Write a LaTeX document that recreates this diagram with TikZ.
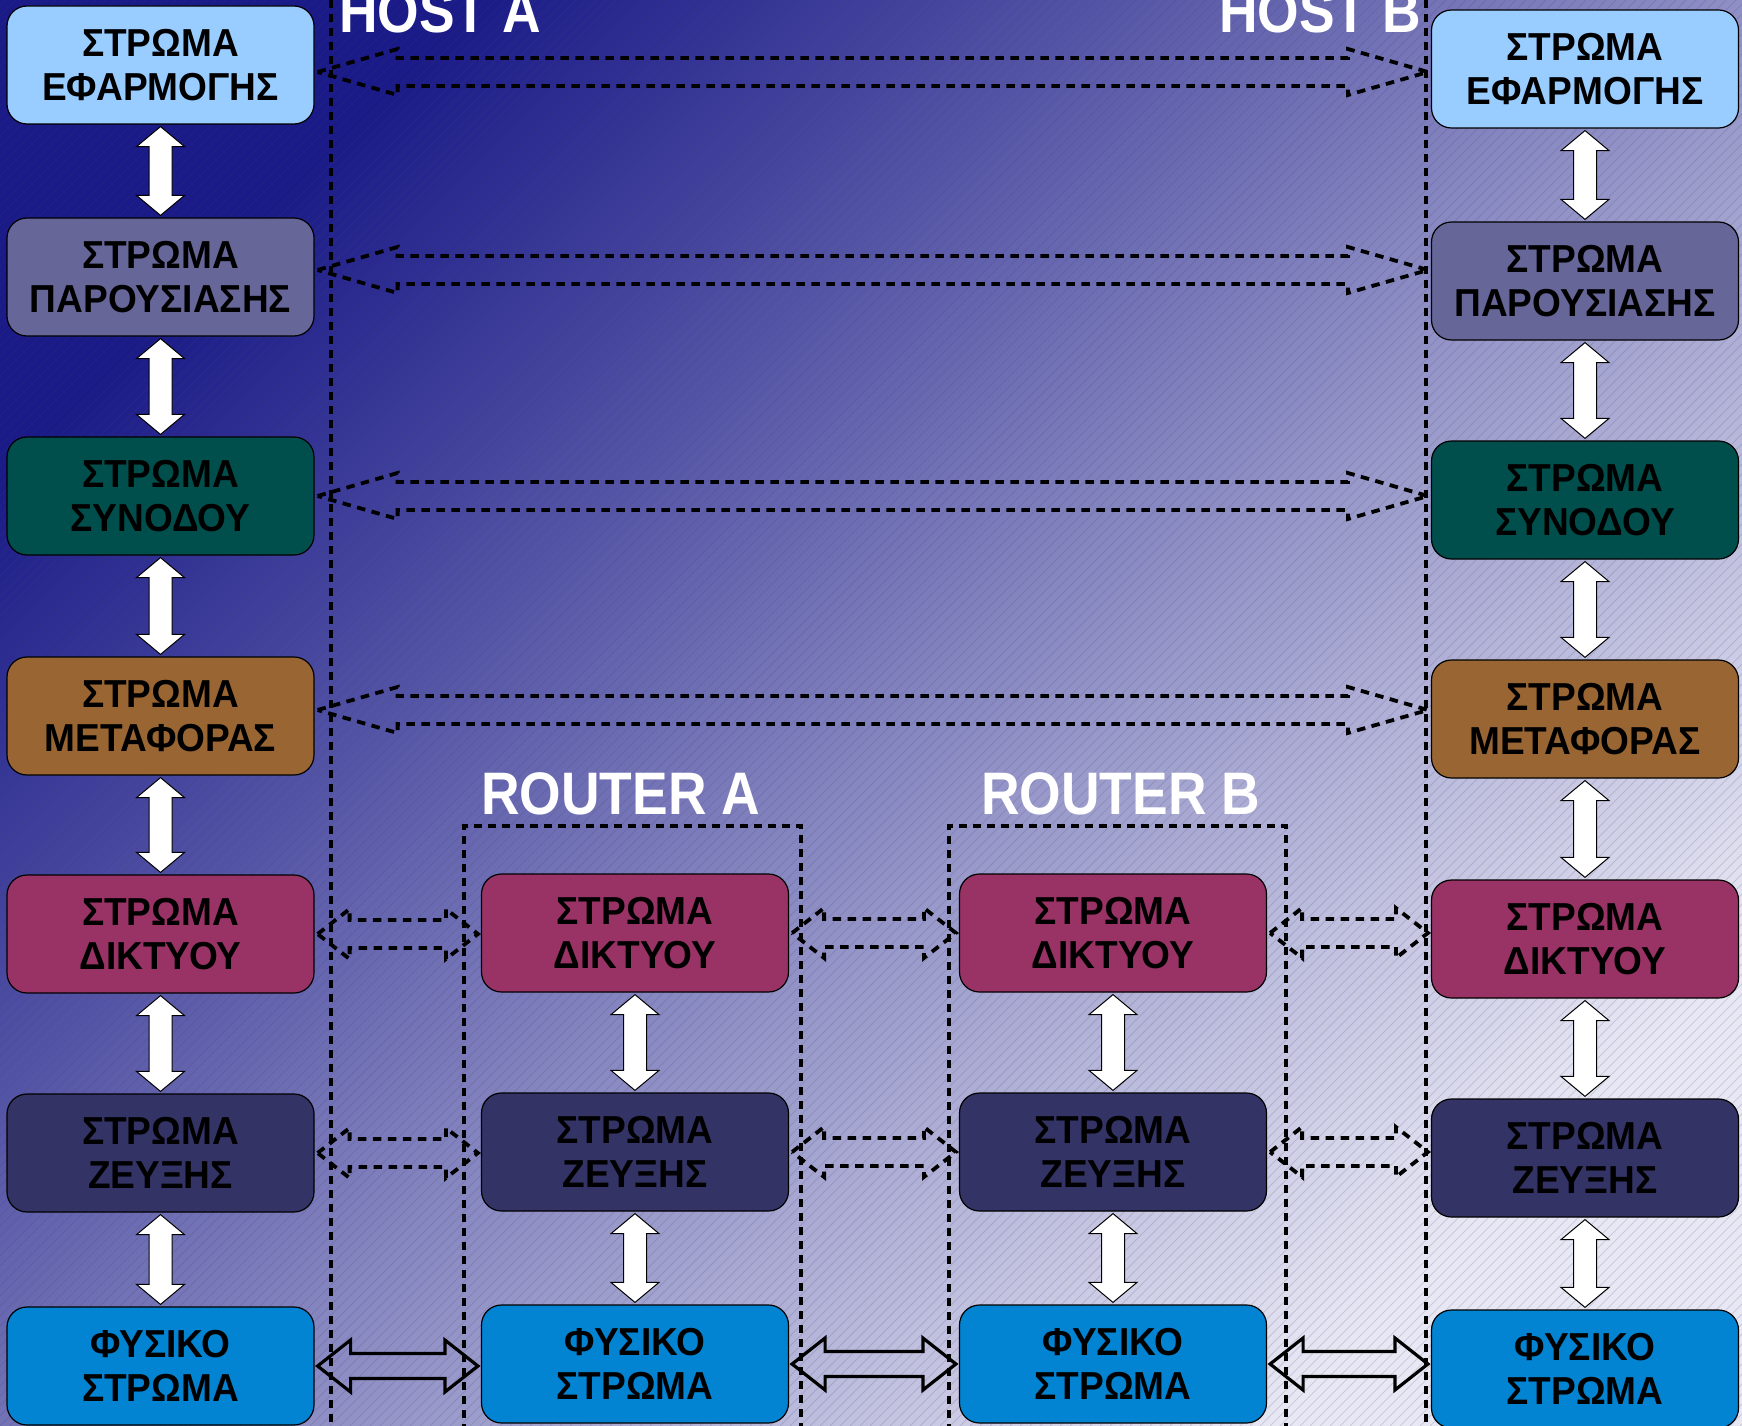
\documentclass[tikz,border=0pt]{standalone}
\usepackage{fontspec}
\setmainfont{Liberation Sans}
\newfontfamily\labelfont{Liberation Sans}[FakeStretch=0.89]
\newfontfamily\layerfont{Liberation Sans}[FakeStretch=0.95]
\usetikzlibrary{calc}
\definecolor{cApp}{HTML}{99CCFF}
\definecolor{cPres}{HTML}{666699}
\definecolor{cSess}{HTML}{004F4C}
\definecolor{cTrans}{HTML}{996633}
\definecolor{cNet}{HTML}{993366}
\definecolor{cLink}{HTML}{333366}
\definecolor{cPhys}{HTML}{0284D3}
\definecolor{bgTL}{HTML}{1A1A88}
\definecolor{bgMid}{HTML}{7070B8}
\definecolor{bgBR}{HTML}{E8E8F4}
\tikzset{
  layer/.style={draw=black, line width=1.2pt, rounded corners=20pt,
    minimum width=307pt, minimum height=118pt, inner sep=0pt, align=center,
    font=\layerfont\bfseries\fontsize{39}{44}\selectfont, text=black},
  biglabel/.style={text=white, inner sep=0pt,
    font=\labelfont\bfseries\fontsize{60}{60}\selectfont},
  vdash/.style={draw=black, line width=3.5pt, dash pattern=on 8pt off 6pt},
  peerarrow/.style={draw=black, line width=3.8pt, dash pattern=on 8.5pt off 6.5pt, line join=miter},
  physarrow/.style={draw=black, line width=3.2pt, line join=miter},
  varrow/.style={draw=black, line width=1pt, fill=white},
  hatch/.style={draw=black!40!bgMid, line width=0.8pt, opacity=0.18}
}
% horizontal double block arrow: style, from, to, head length, head half width, shaft half width, y shift
\newcommand\mkHarrow[7]{%
  \draw[#1] let \p1=($(#2.east)+(0,#7)$), \p2=(#3.west) in
    (\x1+3pt,\y1) -- (\x1+3pt+#4,\y1+#5) -- (\x1+3pt+#4,\y1+#6)
    -- (\x2-3pt-#4,\y1+#6) -- (\x2-3pt-#4,\y1+#5) -- (\x2-3pt,\y1)
    -- (\x2-3pt-#4,\y1-#5) -- (\x2-3pt-#4,\y1-#6) -- (\x1+3pt+#4,\y1-#6)
    -- (\x1+3pt+#4,\y1-#5) -- cycle;}
% vertical white double block arrow: from (upper), to (lower)
\newcommand\mkVarrow[2]{%
  \draw[varrow] let \p1=(#1.south), \p2=(#2.north) in
    (\x1,\y1-2pt) -- (\x1+24pt,\y1-22pt) -- (\x1+11.5pt,\y1-22pt)
    -- (\x1+11.5pt,\y2+22pt) -- (\x1+24pt,\y2+22pt) -- (\x1,\y2+2pt)
    -- (\x1-24pt,\y2+22pt) -- (\x1-11.5pt,\y2+22pt) -- (\x1-11.5pt,\y1-22pt)
    -- (\x1-24pt,\y1-22pt) -- cycle;}
\begin{document}
\begin{tikzpicture}[x=1pt,y=-1pt]
\useasboundingbox (0,0) rectangle (1742,1426);
\shade[top color=bgTL, middle color=bgMid, bottom color=bgBR, shading angle=45]
  (0,0) rectangle (1742,1426);
\begin{scope}
  \clip (0,0) rectangle (1742,1426);
  \foreach \i in {-1430,-1420,...,1750} \draw[hatch] (\i,1426) -- ++(1426,-1426);
\end{scope}
% boundary lines
\draw[vdash] (331,0) -- (331,1430);
\draw[vdash] (1426,0) -- (1426,1430);
\draw[vdash] (464,1432) -- (464,826) -- (801,826) -- (801,1432);
\draw[vdash] (949,1432) -- (949,826) -- (1286,826) -- (1286,1432);
% labels
\node[biglabel, anchor=base west] (hostA) at (339,33) {HOST A};
\node[biglabel, anchor=base east] (hostB) at (1421,33) {HOST B};
\node[biglabel, anchor=base west] (routA) at (481,814) {ROUTER A};
\node[biglabel, anchor=base west] (routB) at (981,814) {ROUTER B};
% host A
\node[layer, fill=cApp]   (a1) at (160.5,65)   {ΣΤΡΩΜΑ\\ΕΦΑΡΜΟΓΗΣ};
\node[layer, fill=cPres]  (a2) at (160.5,277)  {ΣΤΡΩΜΑ\\ΠΑΡΟΥΣΙΑΣΗΣ};
\node[layer, fill=cSess]  (a3) at (160.5,496)  {ΣΤΡΩΜΑ\\ΣΥΝΟΔΟΥ};
\node[layer, fill=cTrans] (a4) at (160.5,716)  {ΣΤΡΩΜΑ\\ΜΕΤΑΦΟΡΑΣ};
\node[layer, fill=cNet]   (a5) at (160.5,934)  {ΣΤΡΩΜΑ\\ΔΙΚΤΥΟΥ};
\node[layer, fill=cLink]  (a6) at (160.5,1153) {ΣΤΡΩΜΑ\\ΖΕΥΞΗΣ};
\node[layer, fill=cPhys]  (a7) at (160.5,1366) {ΦΥΣΙΚΟ\\ΣΤΡΩΜΑ};
% host B
\node[layer, fill=cApp]   (b1) at (1585,69)   {ΣΤΡΩΜΑ\\ΕΦΑΡΜΟΓΗΣ};
\node[layer, fill=cPres]  (b2) at (1585,281)  {ΣΤΡΩΜΑ\\ΠΑΡΟΥΣΙΑΣΗΣ};
\node[layer, fill=cSess]  (b3) at (1585,500)  {ΣΤΡΩΜΑ\\ΣΥΝΟΔΟΥ};
\node[layer, fill=cTrans] (b4) at (1585,719)  {ΣΤΡΩΜΑ\\ΜΕΤΑΦΟΡΑΣ};
\node[layer, fill=cNet]   (b5) at (1585,939)  {ΣΤΡΩΜΑ\\ΔΙΚΤΥΟΥ};
\node[layer, fill=cLink]  (b6) at (1585,1158) {ΣΤΡΩΜΑ\\ΖΕΥΞΗΣ};
\node[layer, fill=cPhys]  (b7) at (1585,1369) {ΦΥΣΙΚΟ\\ΣΤΡΩΜΑ};
% router A
\node[layer, fill=cNet]   (ra5) at (635,933)  {ΣΤΡΩΜΑ\\ΔΙΚΤΥΟΥ};
\node[layer, fill=cLink]  (ra6) at (635,1152) {ΣΤΡΩΜΑ\\ΖΕΥΞΗΣ};
\node[layer, fill=cPhys]  (ra7) at (635,1364) {ΦΥΣΙΚΟ\\ΣΤΡΩΜΑ};
% router B
\node[layer, fill=cNet]   (rb5) at (1113,933)  {ΣΤΡΩΜΑ\\ΔΙΚΤΥΟΥ};
\node[layer, fill=cLink]  (rb6) at (1113,1152) {ΣΤΡΩΜΑ\\ΖΕΥΞΗΣ};
\node[layer, fill=cPhys]  (rb7) at (1113,1364) {ΦΥΣΙΚΟ\\ΣΤΡΩΜΑ};
% vertical arrows
\mkVarrow{a1}{a2}\mkVarrow{a2}{a3}\mkVarrow{a3}{a4}\mkVarrow{a4}{a5}\mkVarrow{a5}{a6}\mkVarrow{a6}{a7}
\mkVarrow{b1}{b2}\mkVarrow{b2}{b3}\mkVarrow{b3}{b4}\mkVarrow{b4}{b5}\mkVarrow{b5}{b6}\mkVarrow{b6}{b7}
\mkVarrow{ra5}{ra6}\mkVarrow{ra6}{ra7}
\mkVarrow{rb5}{rb6}\mkVarrow{rb6}{rb7}
% peer arrows between hosts
\mkHarrow{peerarrow}{a1}{b1}{80pt}{23pt}{14pt}{7}
\mkHarrow{peerarrow}{a2}{b2}{80pt}{23pt}{14pt}{-7}
\mkHarrow{peerarrow}{a3}{b3}{80pt}{23pt}{14pt}{0}
\mkHarrow{peerarrow}{a4}{b4}{80pt}{23pt}{14pt}{-6}
% network and link peers
\mkHarrow{peerarrow}{a5}{ra5}{32pt}{25pt}{14pt}{0}
\mkHarrow{peerarrow}{ra5}{rb5}{32pt}{25pt}{14pt}{0}
\mkHarrow{peerarrow}{rb5}{b5}{32pt}{25pt}{14pt}{0}
\mkHarrow{peerarrow}{a6}{ra6}{32pt}{25pt}{14pt}{0}
\mkHarrow{peerarrow}{ra6}{rb6}{32pt}{25pt}{14pt}{0}
\mkHarrow{peerarrow}{rb6}{b6}{32pt}{25pt}{14pt}{0}
% physical links
\mkHarrow{physarrow}{a7}{ra7}{33pt}{26pt}{12.5pt}{0}
\mkHarrow{physarrow}{ra7}{rb7}{33pt}{26pt}{12.5pt}{0}
\mkHarrow{physarrow}{rb7}{b7}{33pt}{26pt}{12.5pt}{0}
\end{tikzpicture}
\end{document}
